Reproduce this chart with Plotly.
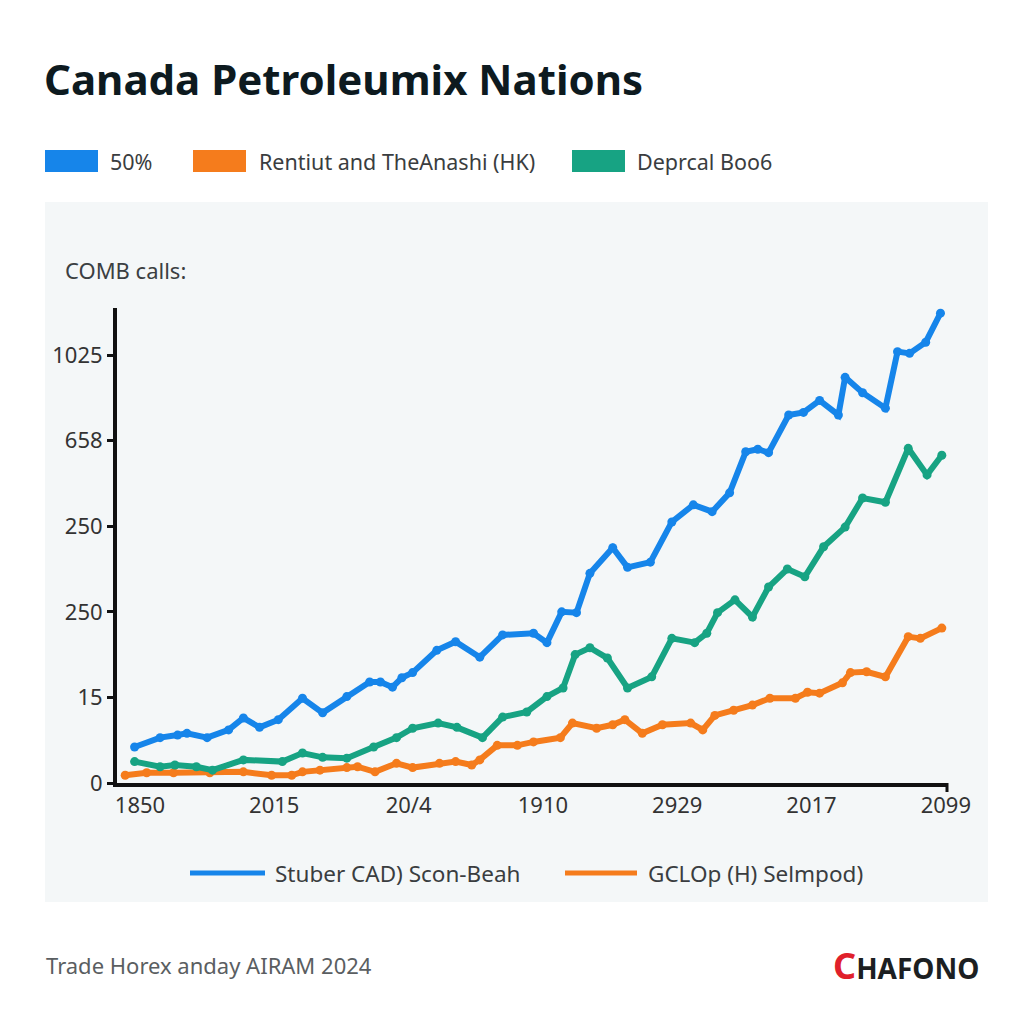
import plotly.graph_objects as go

# ---------------- data ----------------
x_tick_vals = [0, 1, 2, 3, 4, 5, 6]
x_tick_text = ["1850", "2015", "20/4", "1910", "2929", "2017", "2099"]
y_tick_vals = [0, 1, 2, 3, 4, 5]
y_tick_text = ["0", "15", "250", "250", "658", "1025"]

blue_x = [-0.04, 0.15, 0.28, 0.35, 0.50, 0.66, 0.77, 0.89, 1.03, 1.21, 1.36, 1.54, 1.71, 1.79,
          1.88, 1.95, 2.03, 2.21, 2.35, 2.53, 2.70, 2.93, 3.03, 3.14, 3.25, 3.35, 3.52, 3.63,
          3.80, 3.96, 4.12, 4.26, 4.39, 4.51, 4.60, 4.68, 4.83, 4.94, 5.06, 5.20, 5.25, 5.38,
          5.55, 5.64, 5.73, 5.85, 5.96]
blue_y = [0.42, 0.53, 0.56, 0.58, 0.53, 0.62, 0.76, 0.65, 0.74, 0.99, 0.82, 1.01, 1.18, 1.18,
          1.12, 1.23, 1.29, 1.55, 1.65, 1.47, 1.73, 1.75, 1.64, 2.00, 1.99, 2.45, 2.75, 2.52,
          2.58, 3.05, 3.25, 3.17, 3.39, 3.87, 3.90, 3.86, 4.30, 4.33, 4.47, 4.30, 4.74, 4.56,
          4.38, 5.04, 5.02, 5.15, 5.49]

orange_x = [-0.11, 0.05, 0.25, 0.52, 0.77, 0.98, 1.13, 1.21, 1.34, 1.54, 1.62, 1.75, 1.91, 2.03,
            2.23, 2.35, 2.47, 2.53, 2.66, 2.81, 2.93, 3.13, 3.22, 3.40, 3.52, 3.61, 3.74, 3.89,
            4.10, 4.19, 4.28, 4.42, 4.56, 4.69, 4.88, 4.97, 5.06, 5.23, 5.29, 5.41, 5.55, 5.72,
            5.81, 5.97]
orange_y = [0.09, 0.12, 0.12, 0.12, 0.13, 0.09, 0.09, 0.13, 0.15, 0.18, 0.19, 0.13, 0.23, 0.18,
            0.23, 0.25, 0.21, 0.27, 0.44, 0.44, 0.48, 0.53, 0.70, 0.64, 0.68, 0.74, 0.58, 0.68,
            0.70, 0.62, 0.79, 0.85, 0.91, 0.99, 0.99, 1.06, 1.05, 1.17, 1.29, 1.30, 1.24, 1.71,
            1.69, 1.81]

green_x = [-0.04, 0.15, 0.26, 0.42, 0.54, 0.77, 1.06, 1.21, 1.36, 1.54, 1.74, 1.91, 2.03, 2.22,
           2.36, 2.55, 2.70, 2.88, 3.03, 3.15, 3.24, 3.35, 3.48, 3.63, 3.81, 3.96, 4.13, 4.22,
           4.30, 4.43, 4.56, 4.68, 4.82, 4.95, 5.09, 5.25, 5.38, 5.55, 5.72, 5.86, 5.97]
green_y = [0.25, 0.19, 0.21, 0.19, 0.15, 0.27, 0.25, 0.35, 0.30, 0.29, 0.42, 0.53, 0.64, 0.70,
           0.65, 0.53, 0.77, 0.83, 1.01, 1.11, 1.50, 1.58, 1.46, 1.11, 1.24, 1.69, 1.64, 1.75,
           1.99, 2.14, 1.94, 2.29, 2.50, 2.41, 2.76, 2.99, 3.33, 3.28, 3.91, 3.60, 3.83]

title_text = "Canada Petroleumix Nations"
y_label = "COMB calls:"
top_legend = [("50%", "#1685ea"), ("Rentiut and TheAnashi (HK)", "#f57c1c"), ("Deprcal Boo6", "#17a383")]
bottom_legend = [("Stuber CAD) Scon-Beah", "#1685ea"), ("GCLOp (H) Selmpod)", "#f57c1c")]
footer_text = "Trade Horex anday AIRAM 2024"

# ---------------- figure ----------------
W, H = 1024, 1024
OFF = 8  # page body margin
L, R, T, B = 117, 948, 308, 783  # plot area in target pixels


def px(xp):
    return (xp - L) / (R - L)


def py(yp):
    return (B - yp) / (B - T)


fig = go.Figure()
for xs, ys, col in [(orange_x, orange_y, "#f57c1c"), (green_x, green_y, "#17a383"), (blue_x, blue_y, "#1685ea")]:
    fig.add_trace(go.Scatter(x=xs, y=ys, mode="lines+markers",
                             line=dict(color=col, width=6),
                             marker=dict(color=col, size=9),
                             showlegend=False, hoverinfo="skip"))

font_main = "Noto Sans, Open Sans, Arial, sans-serif"
shapes = []
annotations = []

# panel background
shapes.append(dict(type="rect", xref="paper", yref="paper", x0=px(45), x1=px(988), y0=py(902), y1=py(202),
                   fillcolor="#f4f7f8", line=dict(width=0), layer="below"))
# end tick on x axis
shapes.append(dict(type="line", xref="paper", yref="paper", x0=px(947), x1=px(947), y0=py(783), y1=py(792),
                   line=dict(color="#111", width=3)))

# title
annotations.append(dict(text="<b>" + title_text + "</b>", xref="paper", yref="paper", x=px(42), y=py(78),
                        xanchor="left", yanchor="middle", showarrow=False,
                        font=dict(family=font_main, size=42, color="#0d1a1f")))
# y label
annotations.append(dict(text=y_label, xref="paper", yref="paper", x=px(63), y=py(270),
                        xanchor="left", yanchor="middle", showarrow=False,
                        font=dict(family=font_main, size=22, color="#3b3f42")))

# top legend (swatches)
top_pos = [(45, 108), (193, 257), (572, 635)]
for (name, col), (sx, tx) in zip(top_legend, top_pos):
    shapes.append(dict(type="rect", xref="paper", yref="paper", x0=px(sx), x1=px(sx + 53),
                       y0=py(172), y1=py(150), fillcolor=col, line=dict(width=0)))
    annotations.append(dict(text=name, xref="paper", yref="paper", x=px(tx), y=py(161),
                            xanchor="left", yanchor="middle", showarrow=False,
                            font=dict(family=font_main, size=21.5, color="#3a3d40")))

# bottom legend (lines)
bot_pos = [(190, 265, 273), (565, 637, 646)]
for (name, col), (x0, x1, tx) in zip(bottom_legend, bot_pos):
    shapes.append(dict(type="line", xref="paper", yref="paper", x0=px(x0), x1=px(x1),
                       y0=py(873), y1=py(873), line=dict(color=col, width=5)))
    annotations.append(dict(text=name, xref="paper", yref="paper", x=px(tx), y=py(873),
                            xanchor="left", yanchor="middle", showarrow=False,
                            font=dict(family=font_main, size=22.5, color="#3a3d40")))

# footer
annotations.append(dict(text=footer_text, xref="paper", yref="paper", x=px(44), y=py(965),
                        xanchor="left", yanchor="middle", showarrow=False,
                        font=dict(family=font_main, size=22, color="#5a5e61")))
annotations.append(dict(text="<b><span style='color:#e0202b;font-size:36px'>C</span>HAFONO</b>",
                        xref="paper", yref="paper",
                        x=px(981), y=py(965), xanchor="right", yanchor="middle", showarrow=False,
                        font=dict(family=font_main, size=28, color="#1c1f22")))

fig.update_layout(
    width=W, height=H,
    margin=dict(l=L - OFF, r=W - (R - OFF), t=T - OFF, b=H - (B - OFF), pad=0),
    paper_bgcolor="white",
    plot_bgcolor="rgba(0,0,0,0)",
    shapes=shapes,
    annotations=annotations,
    showlegend=False,
    xaxis=dict(range=[-0.171, 6.016], tickvals=x_tick_vals, ticktext=x_tick_text,
               showgrid=False, zeroline=False, showline=True, linecolor="#111", linewidth=4,
               ticks="", tickfont=dict(family=font_main, size=22, color="#333"), ticklabelstandoff=0),
    yaxis=dict(range=[0, 5.55], tickvals=y_tick_vals, ticktext=y_tick_text,
               showgrid=False, zeroline=False, showline=True, linecolor="#111", linewidth=4,
               ticks="outside", ticklen=6, tickwidth=3, tickcolor="#111",
               tickfont=dict(family=font_main, size=22, color="#333")),
)

fig.write_html("out.html")
